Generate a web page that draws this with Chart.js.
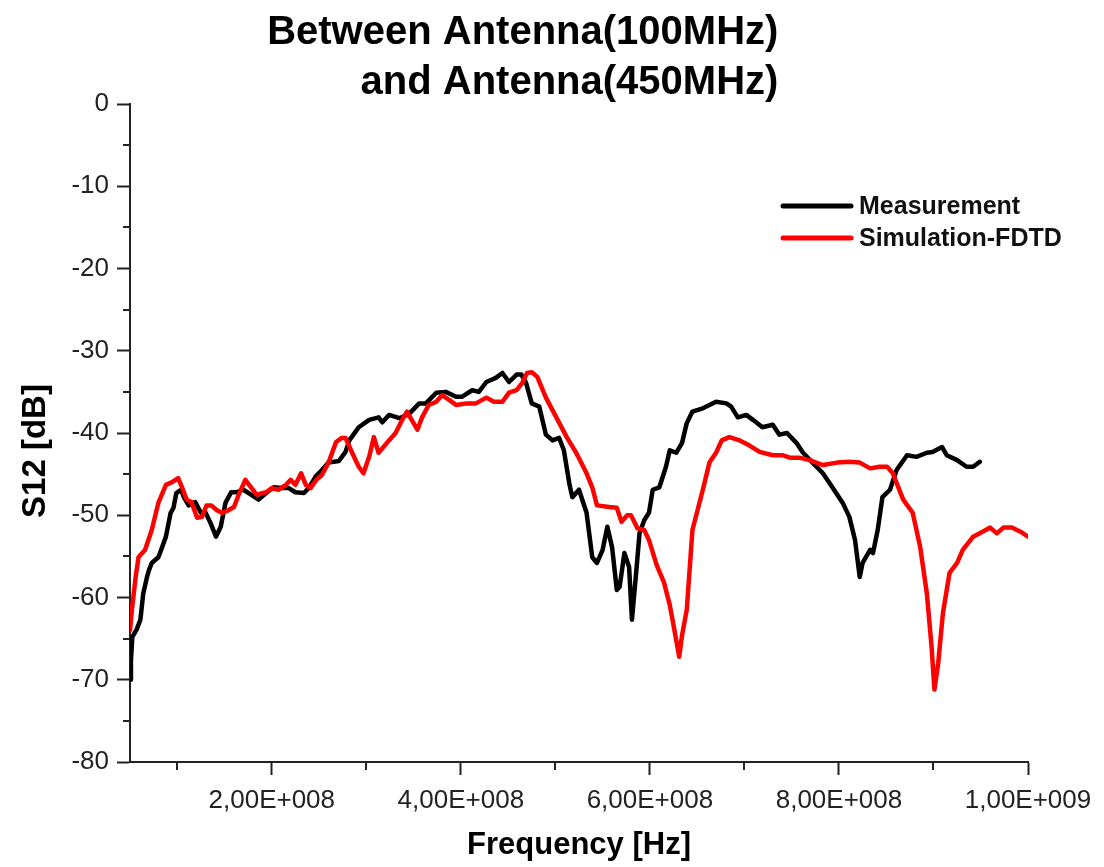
<!DOCTYPE html>
<html><head><meta charset="utf-8">
<script src="https://cdn.jsdelivr.net/npm/chart.js@4.4.1/dist/chart.umd.min.js"></script>
<style>html,body{margin:0;padding:0;background:#fff}#wrap{width:1104px;height:867px}</style>
</head><body><div id="wrap"><canvas id="c" width="1104" height="867"></canvas></div>
<script>
const titleLines = ['Between Antenna(100MHz)', 'and Antenna(450MHz)'];
const seriesNames = ['Measurement', 'Simulation-FDTD'];
const xAxisTitle = 'Frequency [Hz]';
const yAxisTitle = 'S12 [dB]';
const xTickValues = [2e8, 4e8, 6e8, 8e8, 1e9];
const xTickLabels = ['2,00E+008', '4,00E+008', '6,00E+008', '8,00E+008', '1,00E+009'];
const xMinorTicks = [1e8, 3e8, 5e8, 7e8, 9e8];
const yTickValues = [0, -10, -20, -30, -40, -50, -60, -70, -80];
const yMinorTicks = [-5, -15, -25, -35, -45, -55, -65, -75];

const measFreqMHz = [50,51,52.5,57,61,64,68,70,73,80,83,88,93,96,99,104,107,112,119,125,130,135,141,146,151,157,163,170,178,186,194,202,211,218,225,234,239,247,253,260,271,278,282,292,303,313,317,324,335,345,356,363,374,384,395,401,412,419,427,437,444,451,459,464,469,475,483,490,497,504,509,515,518,525,533,539,544,550,555,560,565,568,573,578,581,586,589,594,599,603,610,617,621,628,634,639,645,656,663,670,681,686,693,702,709,719,730,737,745,755,762,772,783,793,804,811,817,822,825,833,836,841,846,854,861,872,882,893,899,909,914,925,935,942,949];
const measS12 = [-70.0,-67.6,-64.8,-63.9,-62.7,-59.5,-57.5,-56.7,-55.8,-55.1,-54.2,-52.6,-49.7,-49.1,-47.3,-46.9,-47.8,-48.8,-48.4,-49.7,-49.7,-50.9,-52.6,-51.4,-48.5,-47.2,-47.2,-46.9,-47.5,-48.1,-47.3,-46.6,-46.7,-46.7,-47.2,-47.3,-46.7,-45.2,-44.5,-43.6,-43.4,-42.3,-40.9,-39.3,-38.4,-38.1,-38.7,-37.8,-38.2,-37.7,-36.4,-36.4,-35.1,-35.0,-35.6,-35.6,-34.8,-35.0,-33.8,-33.3,-32.7,-33.8,-32.9,-32.9,-33.9,-36.4,-36.8,-40.2,-40.9,-40.6,-42.1,-46.3,-47.8,-46.9,-49.7,-55.1,-55.8,-54.2,-51.4,-53.9,-59.1,-58.7,-54.6,-56.3,-62.7,-56.3,-52.2,-50.6,-49.7,-46.9,-46.6,-44.1,-42.1,-42.4,-41.2,-38.8,-37.4,-37.0,-36.6,-36.2,-36.4,-36.8,-38.1,-37.8,-38.4,-39.3,-39.0,-40.2,-40.0,-41.2,-42.4,-43.6,-44.9,-46.6,-48.5,-50.2,-53.0,-57.5,-55.8,-54.2,-54.6,-51.8,-47.8,-46.9,-44.5,-42.7,-42.9,-42.4,-42.3,-41.7,-42.7,-43.3,-44.1,-44.1,-43.5];

const simFreqMHz = [50,52,56,59,66,73,80,88,94,101,105,110,115,121,126,131,136,142,147,154,160,165,172,178,184,194,200,207,215,220,225,231,236,241,247,253,260,268,274,278,285,292,297,303,308,313,324,331,338,343,348,354,359,366,374,380,388,395,406,416,427,435,444,451,459,465,470,475,481,490,501,512,522,533,539,544,557,565,570,576,580,587,594,599,607,615,621,626,631,634,639,645,656,663,670,676,684,695,705,716,730,740,748,758,769,783,798,811,822,833,843,851,857,868,878,886,893,898,901,905,910,917,925,931,942,952,960,967,974,983,992,1000];
const simS12 = [-64.0,-61.5,-57.5,-55.1,-54.2,-51.8,-48.5,-46.3,-46.0,-45.5,-46.6,-48.1,-48.4,-50.3,-50.2,-48.8,-48.8,-49.4,-49.7,-49.4,-49.0,-47.5,-45.7,-46.6,-47.5,-47.2,-46.7,-46.9,-46.3,-45.7,-46.3,-44.9,-46.3,-46.7,-45.7,-45.1,-43.6,-41.1,-40.6,-40.6,-42.4,-44.1,-44.9,-42.9,-40.5,-42.4,-40.9,-40.0,-38.4,-37.4,-38.4,-39.6,-38.1,-36.6,-36.2,-35.4,-36.0,-36.6,-36.4,-36.4,-35.7,-36.2,-36.2,-35.1,-34.8,-33.9,-32.7,-32.6,-33.2,-35.7,-38.1,-40.5,-42.4,-44.9,-46.6,-48.8,-49.0,-49.1,-50.8,-50.0,-50.0,-51.6,-51.8,-53.0,-56.0,-58.2,-60.9,-64.0,-67.2,-64.6,-61.5,-51.8,-46.9,-43.6,-42.4,-40.9,-40.5,-40.9,-41.5,-42.3,-42.7,-42.7,-43.0,-43.0,-43.3,-43.9,-43.6,-43.5,-43.6,-44.3,-44.1,-44.1,-44.9,-48.1,-49.7,-53.9,-59.5,-66.0,-71.2,-68.0,-61.9,-57.0,-55.8,-54.2,-52.6,-52.0,-51.5,-52.2,-51.5,-51.5,-52.0,-52.6];

const toPoints = (fs, vs) => fs.map((f, i) => ({ x: f * 1e6, y: vs[i] }));

const decor = {
  id: 'decor',
  afterDraw(chart) {
    const ctx = chart.ctx, ca = chart.chartArea;
    const xs = chart.scales.x, ys = chart.scales.y;
    ctx.save();
    // minor ticks
    ctx.strokeStyle = '#222'; ctx.lineWidth = 2;
    ctx.beginPath();
    xMinorTicks.forEach(v => { const p = Math.round(xs.getPixelForValue(v)); ctx.moveTo(p, ca.bottom); ctx.lineTo(p, ca.bottom + 8); });
    yMinorTicks.forEach(v => { const p = Math.round(ys.getPixelForValue(v)); ctx.moveTo(ca.left, p); ctx.lineTo(ca.left - 7, p); });
    ctx.stroke();
    // title
    ctx.fillStyle = '#000';
    ctx.font = 'bold 40px "Liberation Sans", Arial, sans-serif';
    ctx.textAlign = 'right'; ctx.textBaseline = 'alphabetic';
    const tx = ca.left + 0.722 * (ca.right - ca.left);
    ctx.fillText(titleLines[0], tx, 44);
    ctx.fillText(titleLines[1], tx, 94);
    // y axis title
    ctx.save();
    ctx.translate(36, (ca.top + ca.bottom) / 2 + 18);
    ctx.rotate(-Math.PI / 2);
    ctx.textAlign = 'center'; ctx.textBaseline = 'middle';
    ctx.font = 'bold 33px "Liberation Sans", Arial, sans-serif';
    ctx.fillText(yAxisTitle, 0, 0);
    ctx.restore();
    // legend
    const lx = ca.right - 245, ly = ca.top + 102, gap = 32;
    chart.data.datasets.forEach((ds, i) => {
      const y = ly + i * gap;
      ctx.strokeStyle = ds.borderColor; ctx.lineWidth = 5; ctx.lineCap = 'round';
      ctx.beginPath(); ctx.moveTo(lx, y); ctx.lineTo(lx + 68, y); ctx.stroke();
      ctx.fillStyle = '#111';
      ctx.font = 'bold 25px "Liberation Sans", Arial, sans-serif';
      ctx.textAlign = 'left'; ctx.textBaseline = 'middle';
      ctx.fillText(ds.label, lx + 76, y + 1);
    });
    ctx.restore();
  }
};

new Chart(document.getElementById('c'), {
  type: 'line',
  data: {
    datasets: [
      { label: seriesNames[0], data: toPoints(measFreqMHz, measS12), borderColor: '#000000', backgroundColor: '#000000', borderWidth: 4.5, pointRadius: 0, tension: 0, fill: false, order: 1, borderJoinStyle: 'round', borderCapStyle: 'round' },
      { label: seriesNames[1], data: toPoints(simFreqMHz, simS12), borderColor: '#ff0000', backgroundColor: '#ff0000', borderWidth: 4.5, pointRadius: 0, tension: 0, fill: false, order: 0, borderJoinStyle: 'round', borderCapStyle: 'round' }
    ]
  },
  options: {
    responsive: false,
    animation: false,
    devicePixelRatio: 1,
    layout: { padding: { top: 104, right: 76, bottom: 0, left: 0 } },
    plugins: { legend: { display: false }, title: { display: false }, tooltip: { enabled: false } },
    scales: {
      x: {
        type: 'linear', position: 'bottom', min: 5e7, max: 1e9,
        afterBuildTicks: s => { s.ticks = xTickValues.map(v => ({ value: v })); },
        afterFit: s => { s.height = 105; },
        ticks: { autoSkip: false, maxRotation: 0, padding: 10, color: '#222',
          font: { family: '"Liberation Sans", Arial, sans-serif', size: 26 },
          callback: v => xTickLabels[xTickValues.indexOf(v)] },
        grid: { display: true, drawOnChartArea: false, drawTicks: true, tickLength: 13, tickWidth: 2, tickColor: '#222' },
        border: { display: true, color: '#222', width: 2 },
        title: { display: true, text: xAxisTitle, color: '#000', padding: { top: 0, bottom: 3 },
          font: { family: '"Liberation Sans", Arial, sans-serif', size: 31, weight: 'bold' } }
      },
      y: {
        type: 'linear', min: -80, max: 0,
        afterBuildTicks: s => { s.ticks = yTickValues.map(v => ({ value: v })); },
        afterFit: s => { s.width = 130; },
        ticks: { padding: 8, color: '#222',
          font: { family: '"Liberation Sans", Arial, sans-serif', size: 26 } },
        grid: { display: true, drawOnChartArea: false, drawTicks: true, tickLength: 13, tickWidth: 2, tickColor: '#222' },
        border: { display: true, color: '#222', width: 2 },
        title: { display: false }
      }
    }
  },
  plugins: [decor]
});
</script>
</body></html>
